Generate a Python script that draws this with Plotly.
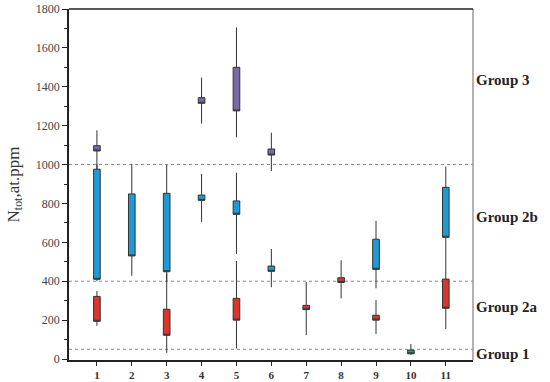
import plotly.graph_objects as go

# ---- data ----
purple_x = [1, 4, 5, 6]
purple_low = [975, 1210, 1140, 967]
purple_q1 = [1070, 1315, 1276, 1049]
purple_q3 = [1097, 1344, 1500, 1080]
purple_high = [1176, 1447, 1705, 1164]

blue_x = [1, 2, 3, 4, 5, 6, 9, 11]
blue_low = [400, 428, 400, 705, 540, 369, 364, 411]
blue_q1 = [410, 530, 449, 816, 744, 451, 461, 626]
blue_q3 = [976, 849, 852, 843, 813, 478, 616, 883]
blue_high = [1000, 1003, 1000, 952, 958, 566, 711, 990]

red_x = [1, 3, 5, 7, 8, 9, 11]
red_low = [171, 32, 55, 123, 312, 129, 154]
red_q1 = [194, 122, 200, 254, 394, 200, 261]
red_q3 = [322, 256, 312, 276, 418, 225, 411]
red_high = [350, 440, 504, 396, 508, 303, 411]

green_x = [10]
green_low = [21]
green_q1 = [27]
green_q3 = [46]
green_high = [77]

group_bounds = [1000, 400, 50]
group_labels = ["Group 3", "Group 2b", "Group 2a", "Group 1"]
group_label_y = [1435, 730, 267, 26]
x_ticks = list(range(1, 12))

SERIF = "Liberation Serif, DejaVu Serif, serif"

fig = go.Figure()

def add_group(xs, low, q1, q3, high, color):
    fig.add_trace(go.Box(
        x=xs, q1=q1, median=q1, q3=q3, lowerfence=low, upperfence=high,
        fillcolor=color, line=dict(color="#333333", width=1),
        width=0.19, whiskerwidth=0, boxpoints=False, showlegend=False,
    ))

add_group(purple_x, purple_low, purple_q1, purple_q3, purple_high, "#7a6aa8")
add_group(blue_x, blue_low, blue_q1, blue_q3, blue_high, "#1e9bd7")
add_group(red_x, red_low, red_q1, red_q3, red_high, "#d9362e")
add_group(green_x, green_low, green_q1, green_q3, green_high, "#2e9e62")

for yb in group_bounds:
    fig.add_shape(type="line", xref="paper", x0=0, x1=1, yref="y", y0=yb, y1=yb,
                  line=dict(color="#888888", width=1, dash="dot"), layer="below")

# right border
fig.add_shape(type="line", xref="paper", x0=1, x1=1, yref="paper", y0=0, y1=1,
              line=dict(color="#999999", width=1.5))
# top border
fig.add_shape(type="line", xref="paper", x0=0, x1=1, yref="paper", y0=1, y1=1,
              line=dict(color="#222222", width=1.5))

for lab, yy in zip(group_labels, group_label_y):
    fig.add_annotation(text="<b>" + lab + "</b>", xref="paper", x=1, xanchor="left",
                       xshift=1, yref="y", y=yy, showarrow=False,
                       font=dict(family=SERIF, size=15, color="#222222"))

fig.update_layout(
    width=550, height=382,
    margin=dict(l=69, r=77, t=9, b=22, autoexpand=False),
    paper_bgcolor="white", plot_bgcolor="white",
    boxmode="overlay",
    font=dict(family=SERIF, color="#333333"),
    xaxis=dict(range=[0.2, 11.78], tickmode="array", tickvals=x_ticks,
               ticktext=["<b>%d</b>" % v for v in x_ticks], automargin=False,
               showgrid=False, zeroline=False, showline=True, linecolor="#222222",
               linewidth=1.5, mirror=False, ticks="outside", ticklen=4,
               tickcolor="#222222", tickfont=dict(size=11, family=SERIF, color="#333333")),
    yaxis=dict(range=[-5, 1800], tickmode="linear", tick0=0, dtick=200, automargin=False,
               ticklabeloverflow="allow",
               showgrid=False, zeroline=False, showline=True, linecolor="#222222",
               linewidth=1.5, ticks="outside", ticklen=5, tickcolor="#222222",
               minor=dict(dtick=100, ticks="outside", ticklen=3, tickcolor="#222222"),
               tickfont=dict(size=12, family=SERIF, color="#444444"),
               title=dict(text="N<sub>tot</sub>,at.ppm", standoff=12,
                          font=dict(size=17, family=SERIF, color="#333333"))),
)

fig.write_html("out.html", config={"displayModeBar": False},
               post_script="document.body.style.margin='0';")
